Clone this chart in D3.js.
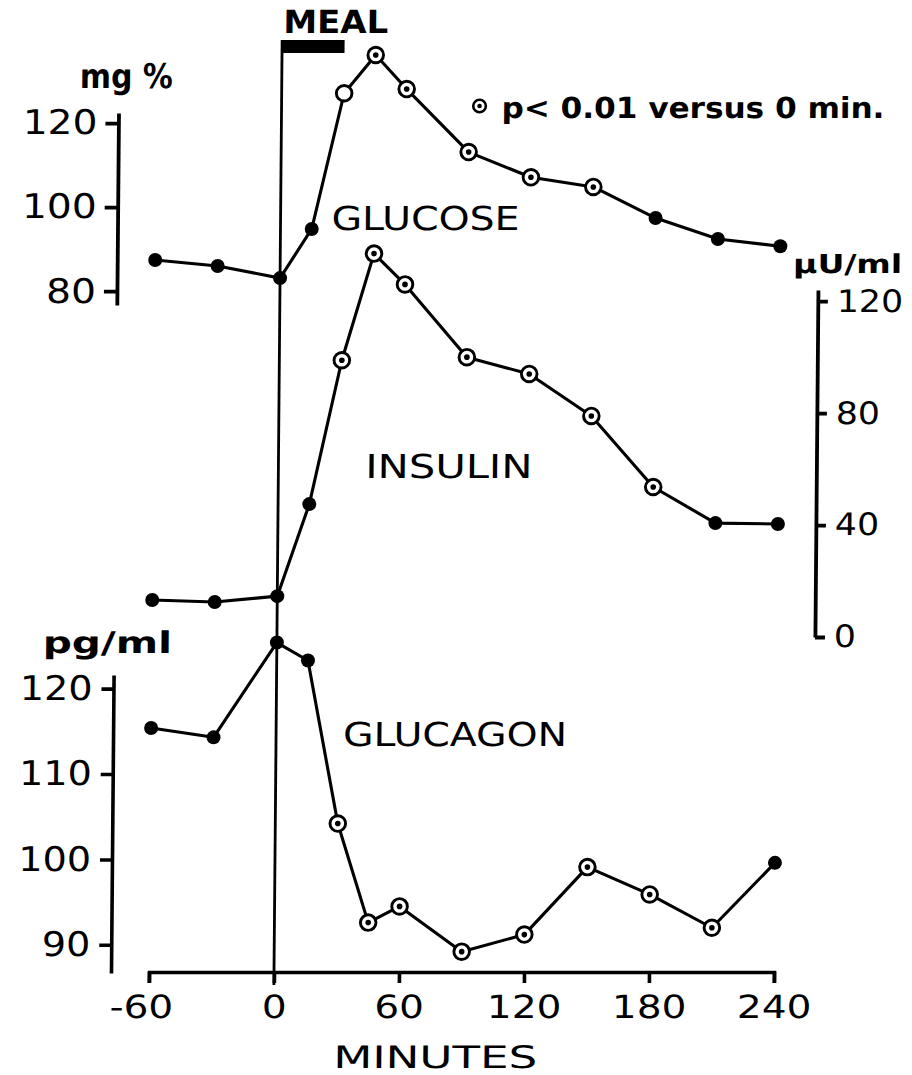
<!DOCTYPE html>
<html><head><meta charset="utf-8">
<script src="https://cdn.jsdelivr.net/npm/d3@7"></script>
<style>
html,body{margin:0;padding:0;background:#fff;}
svg{display:block;}
text{font-family:"DejaVu Sans",sans-serif;fill:#000;}
</style>
</head><body>
<svg id="chart" width="912" height="1075"></svg>
<script>
// ---- data ----
const minutes = [-60, -30, 0, 15, 30, 45, 60, 90, 120, 150, 180, 210, 240];
const glucose = [87.4, 86.0, 83.1, 94.8, 127.1, 136.2, 128.1, 113.1, 107.1, 104.8, 97.4, 92.4, 90.7];
const glucoseMarks = ["f","f","f","f","o","s","s","s","s","s","f","f","f"];
const insulin = [13.2, 12.5, 14.6, 47.5, 98.9, 137, 126, 100, 94, 79, 53.6, 40.7, 40.4];
const insulinMarks = ["f","f","f","f","s","s","s","s","s","s","s","f","f"];
const glucagon = [115.4, 114.3, 125.4, 123.3, 104.2, 92.6, 94.5, 89.2, 91.2, 99.1, 95.9, 92.0, 99.6];
const glucagonMarks = ["f","f","f","f","s","s","s","s","s","s","s","s","f"];
const xTicks = [-60, 0, 60, 120, 180, 240];
const glucoseTicks = [80, 100, 120];
const insulinTicks = [0, 40, 80, 120];
const glucagonTicks = [90, 100, 110, 120];
const mealPeriod = [0, 30];
const xExtent = [-60, 240];
const glucoseAxisExtent = [76.7, 122.4];
const insulinAxisExtent = [0, 124];
const glucagonAxisExtent = [86.7, 121.6];
const labels = {glucose: "GLUCOSE", insulin: "INSULIN", glucagon: "GLUCAGON", xTitle: "MINUTES",
  meal: "MEAL", gUnit: "mg %", iUnit: "μU/ml", cUnit: "pg/ml", legend: "p< 0.01 versus 0 min."};

// ---- layout ----
const svg = d3.select("#chart");
svg.append("rect").attr("width", 912).attr("height", 1075).attr("fill", "#fff");
const base = 972;
const g = svg.append("g")
  .attr("transform", `translate(0,${base}) skewX(-0.5) translate(0,${-base})`);

const x = d3.scaleLinear().domain(xExtent).range([149, 774]);
const yG = d3.scaleLinear().domain(glucoseAxisExtent).range([305, 113]);
const yI = d3.scaleLinear().domain(insulinAxisExtent).range([637, 290]);
const yC = d3.scaleLinear().domain(glucagonAxisExtent).range([973, 675]);

function widen(sel, k, baseX) {
  sel.each(function() {
    const t = d3.select(this);
    if (baseX !== undefined) t.attr("x", baseX / k);
    t.attr("transform", `scale(${k},1)`);
  });
}
function styleAxis(ax, sw) {
  ax.selectAll("path.domain").attr("stroke", "#000").attr("stroke-width", sw);
  ax.selectAll(".tick line").attr("stroke", "#000").attr("stroke-width", sw);
}

// meal marker
g.append("line").attr("x1", x(mealPeriod[0])).attr("x2", x(mealPeriod[0]))
  .attr("y1", 40).attr("y2", 985).attr("stroke", "#000").attr("stroke-width", 2.8);
g.append("rect").attr("x", x(mealPeriod[0])).attr("y", 40)
  .attr("width", x(mealPeriod[1]) - x(mealPeriod[0])).attr("height", 13).attr("fill", "#000");
g.append("text").attr("x", x(mealPeriod[0]) + 1).attr("y", 33)
  .attr("font-size", 32).attr("font-weight", "bold")
  .attr("textLength", 105).attr("lengthAdjust", "spacingAndGlyphs").text(labels.meal);

// x axis
const xa = g.append("g").attr("transform", `translate(0,${base})`)
  .call(d3.axisBottom(x).tickValues(xTicks).tickSize(11).tickSizeOuter(11).tickPadding(12).tickFormat(d => String(d)));
styleAxis(xa, 3.6);
xa.selectAll("text").attr("font-size", 32).attr("font-family", "DejaVu Sans").attr("fill", "#000")
  .attr("dx", d => d < 0 ? "-0.2em" : 0);
widen(xa.selectAll("text"), 1.22);

// glucose axis (left)
const ga = g.append("g").attr("transform", "translate(111,0)")
  .call(d3.axisLeft(yG).tickValues(glucoseTicks).tickSize(13).tickSizeOuter(0).tickPadding(8));
styleAxis(ga, 3.8);
ga.selectAll("text").attr("font-size", 34).attr("font-family", "DejaVu Sans").attr("fill", "#000");
widen(ga.selectAll("text"), 1.15, -21);

// insulin axis (right)
const ia = g.append("g").attr("transform", "translate(812,0)")
  .call(d3.axisRight(yI).tickValues(insulinTicks).tickSize(10).tickSizeOuter(0).tickPadding(9));
styleAxis(ia, 3.8);
ia.selectAll("text").attr("font-size", 31).attr("font-family", "DejaVu Sans").attr("fill", "#000");
widen(ia.selectAll("text"), 1.12, 19);

// glucagon axis (left)
const ca = g.append("g").attr("transform", "translate(111,0)")
  .call(d3.axisLeft(yC).tickValues(glucagonTicks).tickSize(12).tickSizeOuter(0).tickPadding(9));
styleAxis(ca, 3.6);
ca.selectAll("text").attr("font-size", 34).attr("font-family", "DejaVu Sans").attr("fill", "#000");
widen(ca.selectAll("text"), 1.12, -21);

// series
function drawSeries(values, marks, y) {
  const pts = minutes.map((m, i) => ({m, v: values[i], k: marks[i]}));
  g.append("path").datum(pts)
    .attr("d", d3.line().x(d => x(d.m)).y(d => y(d.v)))
    .attr("fill", "none").attr("stroke", "#000").attr("stroke-width", 3.1).attr("stroke-linejoin", "round");
  const mk = g.append("g").selectAll("g").data(pts).join("g")
    .attr("transform", d => `translate(${x(d.m)},${y(d.v)})`);
  mk.filter(d => d.k === "f").append("circle").attr("r", 7).attr("fill", "#000");
  mk.filter(d => d.k !== "f").append("circle").attr("r", 7.8)
    .attr("fill", "#fff").attr("stroke", "#000").attr("stroke-width", 2.9);
  mk.filter(d => d.k === "s").append("circle").attr("r", 2.8).attr("fill", "#000");
}
drawSeries(glucose, glucoseMarks, yG);
drawSeries(insulin, insulinMarks, yI);
drawSeries(glucagon, glucagonMarks, yC);

// labels
function label(txt, xx, yy, size, width, bold) {
  g.append("text").attr("x", xx).attr("y", yy).attr("font-size", size)
    .attr("font-weight", bold ? "bold" : "normal")
    .attr("textLength", width).attr("lengthAdjust", "spacingAndGlyphs").text(txt);
}
label(labels.gUnit, 72, 88, 34, 93, true);
label(labels.glucose, 325, 230, 33, 188, false);
label(labels.iUnit, 787, 273, 26, 109, true);
label(labels.insulin, 361, 478, 33, 167, false);
label(labels.cUnit, 40, 653, 30, 129, true);
label(labels.glucagon, 341, 746, 33, 224, false);
label(labels.xTitle, 334, 1068, 31, 204, false);

// legend
const lg = g.append("g").attr("transform", "translate(472,106)");
lg.append("circle").attr("r", 6.3).attr("fill", "#fff").attr("stroke", "#000").attr("stroke-width", 2.6);
lg.append("circle").attr("r", 2.3).attr("fill", "#000");
label(labels.legend, 494, 118, 29, 383, true);
</script>
</body></html>
